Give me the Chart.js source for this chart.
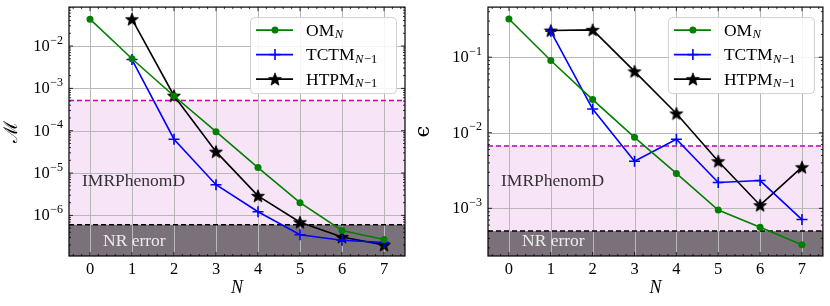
<!DOCTYPE html>
<html>
<head>
<meta charset="utf-8">
<script src="https://cdn.jsdelivr.net/npm/chart.js@4.4.0/dist/chart.umd.min.js"></script>
<style>
  html, body { margin: 0; padding: 0; background: #fff; }
  #wrap { position: relative; width: 830px; height: 306px; }
  .panel { position: absolute; top: 0; width: 415px; height: 306px; }
</style>
</head>
<body>
<div id="wrap">
  <div class="panel" style="left:0"><canvas id="mismatchChart" width="415" height="306"></canvas></div>
  <div class="panel" style="left:415px"><canvas id="epsChart" width="415" height="306"></canvas></div>
</div>
<script>
const N_VALUES = [0, 1, 2, 3, 4, 5, 6, 7];

// left panel: mismatch M
const MISMATCH_OM = [4.3e-2, 5.0e-3, 6.6e-4, 9.5e-5, 1.35e-5, 2.0e-6, 4.4e-7, 2.7e-7];
const MISMATCH_TCTM = [null, 4.8e-3, 6.3e-5, 5.3e-6, 1.22e-6, 3.5e-7, 2.6e-7, 2.3e-7];
const MISMATCH_HTPM = [null, 4.3e-2, 6.7e-4, 3.2e-5, 2.9e-6, 6.9e-7, 3.1e-7, 2.0e-7];
const MISMATCH_IMR = 5.2e-4;
const MISMATCH_NR = 6.0e-7;

// right panel: epsilon
const EPS_OM = [0.32, 0.0905, 0.0275, 8.7e-3, 2.9e-3, 9.5e-4, 5.6e-4, 3.3e-4];
const EPS_TCTM = [null, 0.22, 0.0206, 4.2e-3, 8.2e-3, 2.2e-3, 2.33e-3, 7.1e-4];
const EPS_HTPM = [null, 0.225, 0.23, 0.065, 0.018, 4.2e-3, 1.1e-3, 3.5e-3];
const EPS_IMR = 6.7e-3;
const EPS_NR = 5.0e-4;

const SERIES_NAMES = ["OM", "TCTM", "HTPM"];
const SERIES_SUBS = ["N", "N−1", "N−1"];

const SERIF = "'Liberation Serif', 'DejaVu Serif', serif";
const LINE_W = 1.6;

function makeStar(r) {
  const c = document.createElement("canvas");
  const s = Math.ceil(r * 2 + 2);
  c.width = s; c.height = s;
  const g = c.getContext("2d");
  g.translate(s / 2, s / 2 + 0.6);
  g.beginPath();
  for (let i = 0; i < 10; i++) {
    const rad = i % 2 === 0 ? r : r * 0.42;
    const a = -Math.PI / 2 + i * Math.PI / 5;
    g.lineTo(rad * Math.cos(a), rad * Math.sin(a));
  }
  g.closePath();
  g.fillStyle = "#000";
  g.fill();
  g.lineWidth = 0.8;
  g.strokeStyle = "#000";
  g.stroke();
  return c;
}
const STAR = makeStar(6.8);

function points(vals) {
  return N_VALUES.map((n, i) => ({ x: n, y: vals[i] }));
}

function datasets(om, tctm, htpm) {
  return [
    { label: "OM", data: points(om), borderColor: "#008000", backgroundColor: "#008000",
      pointStyle: "circle", pointRadius: 3.5, pointBorderWidth: 0, borderWidth: LINE_W },
    { label: "TCTM", data: points(tctm), borderColor: "#0000ff", backgroundColor: "#0000ff",
      pointStyle: "cross", pointRadius: 5.5, pointBorderWidth: 1.6, borderWidth: LINE_W },
    { label: "HTPM", data: points(htpm), borderColor: "#000", backgroundColor: "#000",
      pointStyle: STAR, borderWidth: LINE_W }
  ];
}

function drawSubText(ctx, x, y, main, sub, size) {
  ctx.font = `${size}px ${SERIF}`;
  ctx.fillText(main, x, y);
  let cx = x + ctx.measureText(main).width + 0.5;
  const ss = size * 0.72;
  ctx.font = `italic ${ss}px ${SERIF}`;
  ctx.fillText(sub[0], cx, y + 4);
  cx += ctx.measureText(sub[0]).width + 0.5;
  if (sub.length > 1) {
    ctx.font = `${ss}px ${SERIF}`;
    ctx.fillText(sub.slice(1), cx, y + 4);
  }
}

function decoPlugin(cfg) {
  return {
    id: "deco",
    beforeDatasetsDraw(chart) {
      const { ctx, chartArea: a, scales: { x, y } } = chart;
      ctx.save();
      ctx.beginPath();
      ctx.rect(a.left, a.top, a.width, a.height);
      ctx.clip();
      const yImr = y.getPixelForValue(cfg.imr);
      const yNr = y.getPixelForValue(cfg.nr);
      ctx.fillStyle = "#f7e4f6";
      ctx.fillRect(a.left, yImr, a.width, yNr - yImr);
      ctx.fillStyle = "#7b717a";
      ctx.fillRect(a.left, yNr, a.width, a.bottom - yNr);

      // grid
      ctx.strokeStyle = "#b8b8b8";
      ctx.lineWidth = 1;
      for (const n of N_VALUES) {
        const px = Math.round(x.getPixelForValue(n)) + 0.5;
        ctx.beginPath(); ctx.moveTo(px, a.top); ctx.lineTo(px, a.bottom); ctx.stroke();
      }
      for (let k = Math.ceil(Math.log10(y.min)); k <= Math.floor(Math.log10(y.max)); k++) {
        const py = Math.round(y.getPixelForValue(Math.pow(10, k))) + 0.5;
        ctx.beginPath(); ctx.moveTo(a.left, py); ctx.lineTo(a.right, py); ctx.stroke();
      }

      // reference lines
      ctx.lineWidth = 1.5;
      ctx.setLineDash([5, 3]);
      ctx.strokeStyle = "#bf00bf";
      ctx.beginPath(); ctx.moveTo(a.left, yImr); ctx.lineTo(a.right, yImr); ctx.stroke();
      ctx.strokeStyle = "#000";
      ctx.beginPath(); ctx.moveTo(a.left, yNr); ctx.lineTo(a.right, yNr); ctx.stroke();
      ctx.setLineDash([]);

      // labels
      ctx.textBaseline = "middle";
      ctx.textAlign = "left";
      ctx.font = `17.5px ${SERIF}`;
      ctx.fillStyle = "#333";
      ctx.fillText("IMRPhenomD", a.left + 13, a.top + a.height * 0.70);
      ctx.fillStyle = "#ececec";
      ctx.fillText("NR error", a.left + 34, 241);
      ctx.restore();
    },
    afterDraw(chart) {
      const { ctx, chartArea: a, scales: { x, y } } = chart;
      ctx.save();
      // ticks, inward on all sides
      ctx.strokeStyle = "#000";
      ctx.lineWidth = 0.8;
      const tick = (x1, y1, x2, y2) => { ctx.beginPath(); ctx.moveTo(x1, y1); ctx.lineTo(x2, y2); ctx.stroke(); };
      for (let v = -0.4; v < 7.5; v += 0.2) {
        const px = x.getPixelForValue(v);
        const major = Math.abs(v - Math.round(v)) < 1e-6;
        const len = major ? 4 : 2;
        tick(px, a.bottom, px, a.bottom - len);
        tick(px, a.top, px, a.top + len);
      }
      const k0 = Math.floor(Math.log10(y.min)), k1 = Math.ceil(Math.log10(y.max));
      for (let k = k0; k <= k1; k++) {
        for (let m = 1; m <= 9; m++) {
          const v = m * Math.pow(10, k);
          if (v < y.min || v > y.max) continue;
          const py = y.getPixelForValue(v);
          const len = m === 1 ? 4 : 2;
          tick(a.left, py, a.left + len, py);
          tick(a.right, py, a.right - len, py);
        }
      }
      // frame
      ctx.lineWidth = 1.2;
      ctx.strokeRect(a.left, a.top, a.width, a.height);

      // y tick labels 10^k
      ctx.fillStyle = "#000";
      ctx.textBaseline = "middle";
      ctx.textAlign = "left";
      for (let k = Math.ceil(Math.log10(y.min)); k <= Math.floor(Math.log10(y.max)); k++) {
        const py = y.getPixelForValue(Math.pow(10, k));
        const exp = "−" + Math.abs(k);
        ctx.font = `12px ${SERIF}`;
        const ew = ctx.measureText(exp).width;
        ctx.font = `16.5px ${SERIF}`;
        const bw = ctx.measureText("10").width;
        const right = a.left - 6;
        ctx.fillText("10", right - ew - bw - 0.5, py + 0.5);
        ctx.font = `12px ${SERIF}`;
        ctx.fillText(exp, right - ew, py - 5.5);
      }

      // legend
      const bw = 146, bh = 76;
      const bx = a.right - 9 - bw, by = a.top + 10;
      ctx.beginPath();
      ctx.roundRect(bx + 0.5, by + 0.5, bw, bh, 4);
      ctx.fillStyle = "rgba(255,255,255,0.85)";
      ctx.fill();
      ctx.strokeStyle = "#d0d0d0";
      ctx.lineWidth = 1;
      ctx.stroke();
      const rows = [13, 37.5, 62];
      chart.data.datasets.forEach((ds, i) => {
        const ry = by + rows[i];
        ctx.strokeStyle = ds.borderColor;
        ctx.lineWidth = LINE_W;
        ctx.beginPath(); ctx.moveTo(bx + 6, ry); ctx.lineTo(bx + 43, ry); ctx.stroke();
        const mx = bx + 25;
        if (i === 0) {
          ctx.fillStyle = ds.backgroundColor;
          ctx.beginPath(); ctx.arc(mx, ry, 3.5, 0, Math.PI * 2); ctx.fill();
        } else if (i === 1) {
          ctx.lineWidth = 1.6;
          tick(mx - 5.5, ry, mx + 5.5, ry);
          tick(mx, ry - 5.5, mx, ry + 5.5);
        } else {
          ctx.drawImage(STAR, mx - STAR.width / 2, ry - STAR.height / 2);
        }
        ctx.fillStyle = "#000";
        ctx.textBaseline = "middle";
        drawSubText(ctx, bx + 56, ry + 1, SERIES_NAMES[i], SERIES_SUBS[i], 17.5);
      });
      ctx.restore();
    }
  };
}

function makeChart(id, cfg) {
  return new Chart(document.getElementById(id), {
    type: "line",
    data: { datasets: datasets(cfg.om, cfg.tctm, cfg.htpm) },
    options: {
      responsive: false,
      animation: false,
      events: [],
      layout: { padding: { top: 5, right: cfg.padRight, left: 0, bottom: 0 } },
      plugins: { legend: { display: false }, tooltip: { enabled: false } },
      scales: {
        x: {
          type: "linear",
          min: -0.5,
          max: 7.5,
          afterBuildTicks: (s) => { s.ticks = N_VALUES.map((v) => ({ value: v })); },
          afterFit: (s) => { s.height = 50; },
          grid: { display: false, drawTicks: false },
          border: { display: false },
          ticks: { color: "#000", padding: 4, font: { family: SERIF, size: 16.5 }, maxRotation: 0, autoSkip: false },
          title: { display: true, text: "N", color: "#000", padding: { top: 0, bottom: 7 },
                   font: { family: SERIF, size: 18, style: "italic" } }
        },
        y: {
          type: "logarithmic",
          min: cfg.ymin,
          max: cfg.ymax,
          afterFit: (s) => { s.width = cfg.axisWidth; },
          grid: { display: false, drawTicks: false },
          border: { display: false },
          ticks: { display: false },
          title: { display: true, text: cfg.ytitle, color: "#000", padding: { top: cfg.titlePad, bottom: 0 },
                   font: { family: "'DejaVu Serif', serif", size: cfg.titleSize, lineHeight: 1 } }
        }
      }
    },
    plugins: [decoPlugin(cfg)]
  });
}

makeChart("mismatchChart", {
  om: MISMATCH_OM, tctm: MISMATCH_TCTM, htpm: MISMATCH_HTPM,
  imr: MISMATCH_IMR, nr: MISMATCH_NR,
  ymin: 1.1e-7, ymax: 0.083,
  axisWidth: 69, padRight: 10, ytitle: "ℳ", titlePad: 3, titleSize: 19
});

makeChart("epsChart", {
  om: EPS_OM, tctm: EPS_TCTM, htpm: EPS_HTPM,
  imr: EPS_IMR, nr: EPS_NR,
  ymin: 2.34e-4, ymax: 0.46,
  axisWidth: 73, padRight: 6, ytitle: "ϵ", titlePad: -2, titleSize: 21
});
</script>
</body>
</html>
